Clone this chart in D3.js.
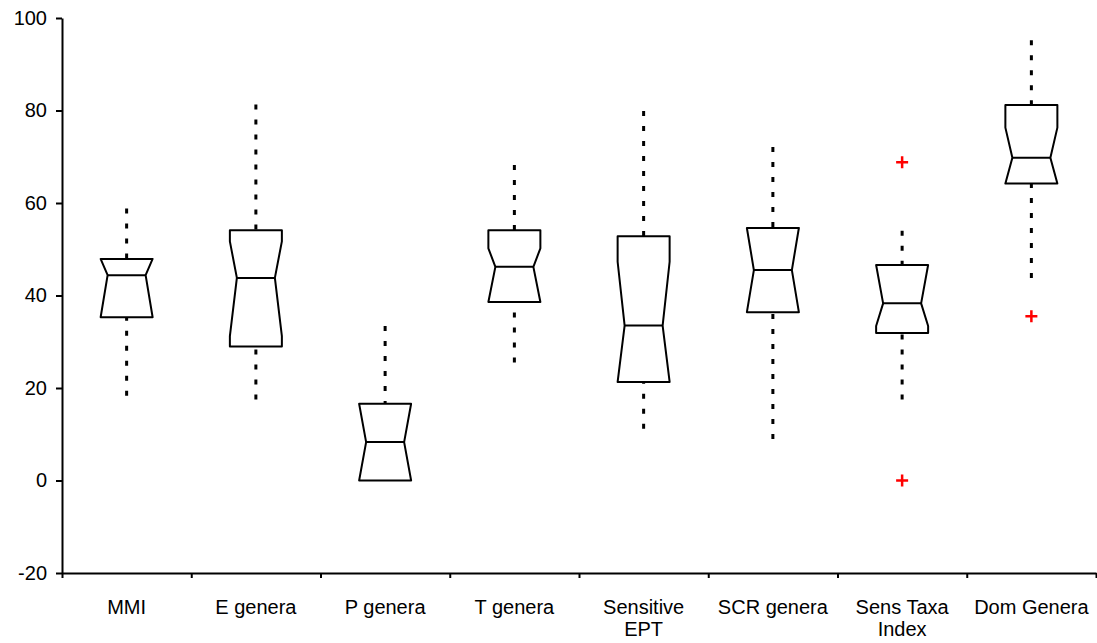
<!DOCTYPE html>
<html>
<head>
<meta charset="utf-8">
<script src="https://cdn.jsdelivr.net/npm/d3@7"></script>
<style>
  body { margin: 0; background: #fff; }
  svg { display: block; font-family: "Liberation Sans", Arial, sans-serif; }
</style>
</head>
<body>
<div id="chart"></div>
<script>
const categories = ['MMI', 'E genera', 'P genera', 'T genera', 'Sensitive\nEPT', 'SCR genera', 'Sens Taxa\nIndex', 'Dom Genera'];
const q1 = [35.3, 29.0, 0, 38.6, 21.3, 36.4, 31.9, 64.2];
const medians = [44.4, 43.8, 8.3, 46.2, 33.5, 45.5, 38.3, 69.8];
const q3 = [47.9, 54.1, 16.6, 54.1, 52.8, 54.6, 46.6, 81.2];
const notchLo = [35.3, 31.2, 0, 38.6, 21.3, 36.4, 33.4, 64.2];
const notchHi = [47.9, 51.7, 16.6, 50.2, 47.3, 54.6, 46.6, 76.3];
const whiskerLo = [18.3, 17.5, 0, 25.5, 11.2, 9.0, 17.5, 43.8];
const whiskerHi = [58.8, 81.3, 33.4, 68.2, 79.9, 72.1, 54.0, 95.2];
const outliers = [[], [], [], [], [], [], [68.8, 0], [35.5]];
const yTicks = [-20, 0, 20, 40, 60, 80, 100];

const width = 1097, height = 643;
const plotLeft = 62, plotRight = 1096, plotTop = 18, plotBottom = 573;
const fontSize = 20;

const svg = d3.select('#chart').append('svg')
  .attr('width', width)
  .attr('height', height);

const y = d3.scaleLinear().domain([-20, 100]).range([plotBottom, plotTop]);
const x = d3.scaleBand().domain(categories).range([plotLeft, plotRight]).padding(0);
const xEdge = d3.scaleLinear().domain([0, categories.length]).range([plotLeft, plotRight]);

// axes
const yAxis = svg.append('g')
  .attr('transform', `translate(${plotLeft},0)`)
  .call(d3.axisLeft(y).tickValues(yTicks).tickSize(6).tickSizeOuter(0).tickPadding(9));
const xAxis = svg.append('g')
  .attr('transform', `translate(0,${plotBottom})`)
  .call(d3.axisBottom(xEdge).tickValues(d3.range(categories.length + 1)).tickFormat('').tickSize(5).tickSizeOuter(0));

[yAxis, xAxis].forEach(g => {
  g.select('.domain').attr('stroke', '#000').attr('stroke-width', 2);
  g.selectAll('.tick line').attr('stroke', '#000').attr('stroke-width', 2);
});
yAxis.selectAll('.tick text')
  .attr('font-size', fontSize).attr('fill', '#000')
  .text(d => d < 0 ? '-' + Math.abs(d) : d)
  .style('font-family', '"Liberation Sans", Arial, sans-serif');

// category labels
categories.forEach(c => {
  const lines = c.split('\n');
  const t = svg.append('text')
    .attr('x', x(c) + x.bandwidth() / 2)
    .attr('y', 614)
    .attr('text-anchor', 'middle')
    .attr('font-size', fontSize)
    .attr('fill', '#000');
  lines.forEach((l, i) => {
    t.append('tspan')
      .attr('x', x(c) + x.bandwidth() / 2)
      .attr('dy', i === 0 ? 0 : 22)
      .text(l);
  });
});

const halfBox = 26;
const halfNotch = 19;

categories.forEach((c, i) => {
  const cx = x(c) + x.bandwidth() / 2;
  const g = svg.append('g');

  // whiskers
  g.append('line')
    .attr('x1', cx).attr('x2', cx)
    .attr('y1', y(whiskerHi[i])).attr('y2', y(q3[i]))
    .attr('stroke', '#000').attr('stroke-width', 3)
    .attr('stroke-dasharray', '5,10');
  if (whiskerLo[i] < q1[i]) {
    g.append('line')
      .attr('x1', cx).attr('x2', cx)
      .attr('y1', y(whiskerLo[i])).attr('y2', y(q1[i]))
      .attr('stroke', '#000').attr('stroke-width', 3)
      .attr('stroke-dasharray', '5,10');
  }

  // notched box
  const nHi = Math.min(notchHi[i], q3[i]);
  const nLo = Math.max(notchLo[i], q1[i]);
  const pts = [];
  pts.push([cx - halfBox, y(q3[i])]);
  if (nHi < q3[i]) pts.push([cx - halfBox, y(nHi)]);
  pts.push([cx - halfNotch, y(medians[i])]);
  if (nLo > q1[i]) pts.push([cx - halfBox, y(nLo)]);
  pts.push([cx - halfBox, y(q1[i])]);
  pts.push([cx + halfBox, y(q1[i])]);
  if (nLo > q1[i]) pts.push([cx + halfBox, y(nLo)]);
  pts.push([cx + halfNotch, y(medians[i])]);
  if (nHi < q3[i]) pts.push([cx + halfBox, y(nHi)]);
  pts.push([cx + halfBox, y(q3[i])]);

  g.append('path')
    .attr('d', d3.line()(pts) + 'Z')
    .attr('fill', 'none')
    .attr('stroke', '#000')
    .attr('stroke-width', 2)
    .attr('stroke-linejoin', 'round');

  // median line
  g.append('line')
    .attr('x1', cx - halfNotch).attr('x2', cx + halfNotch)
    .attr('y1', y(medians[i])).attr('y2', y(medians[i]))
    .attr('stroke', '#000').attr('stroke-width', 2);

  // outliers
  outliers[i].forEach(v => {
    g.append('path')
      .attr('d', `M${cx - 6},${y(v)}H${cx + 6}M${cx},${y(v) - 6}V${y(v) + 6}`)
      .attr('stroke', '#ff0000')
      .attr('stroke-width', 2.5);
  });
});
</script>
</body>
</html>
